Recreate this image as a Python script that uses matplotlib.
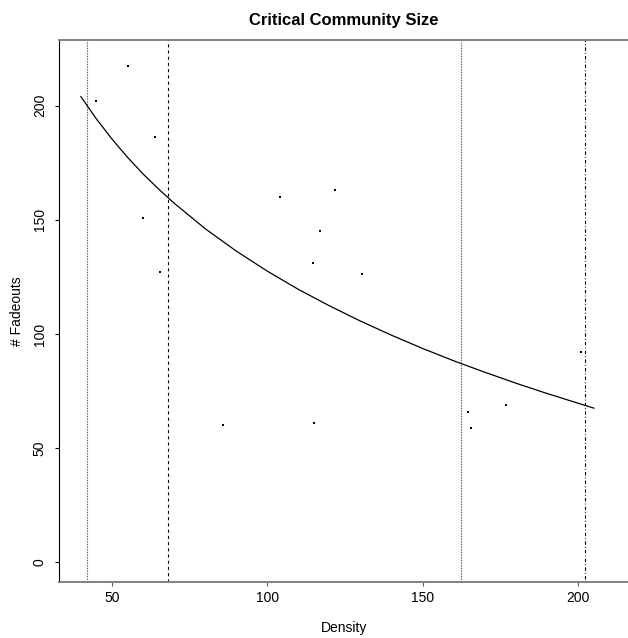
import matplotlib
matplotlib.use("Agg")
import matplotlib.pyplot as plt

plt.rcParams["font.family"] = ["Liberation Sans", "DejaVu Sans"]

# observed points (density, number of fadeouts)
density = [44.9, 55.2, 63.7, 60.1, 65.5, 104.1, 121.8, 117.0, 114.8, 130.4,
           85.7, 115.1, 200.9, 164.4, 165.6, 176.6]
fadeouts = [202.2, 217.3, 186.1, 151.0, 127.2, 160.1, 163.0, 145.0, 131.0, 126.1,
            60.0, 60.8, 92.0, 66.0, 59.0, 68.9]

# fitted curve
curve_x = [40, 45, 50, 55, 60, 65, 70, 80, 90, 100, 110, 120, 130, 140, 150,
           160, 170, 180, 190, 205]
curve_y = [204.0, 194.2, 185.4, 177.4, 170.1, 163.5, 157.3, 146.1, 136.3, 127.5,
           119.5, 112.3, 105.6, 99.4, 93.6, 88.2, 83.2, 78.4, 73.9, 67.5]

# vertical reference lines
vlines = [41.9, 68.0, 162.2, 202.2]
vline_styles = [(0, (1.3, 1.1)), (0, (2.8, 2.8)), (0, (1.3, 1.1)), (0, (0.8, 2.0, 3.0, 2.0))]
vline_colors = ["#606060", "black", "#606060", "black"]

x_ticks = [50, 100, 150, 200]
y_ticks = [0, 50, 100, 150, 200]

fig = plt.figure(figsize=(6.28, 6.38), dpi=100)
ax = fig.add_axes([0.0944, 0.0873, 0.9056, 0.8500])

for xv, ls, col in zip(vlines, vline_styles, vline_colors):
    ax.axvline(xv, color=col, linestyle=ls, linewidth=0.8)

ax.plot(curve_x, curve_y, color="black", linewidth=0.9)
ax.plot(density, fadeouts, linestyle="none", marker="s", markersize=1.9,
        color="black", markeredgewidth=0)

ax.set_xlim(33.05, 215.97)
ax.set_ylim(-8.8, 228.8)
ax.set_xticks(x_ticks)
ax.set_yticks(y_ticks)
ax.tick_params(axis="x", labelsize=10, length=3, width=0.8, color="#606060", pad=3.5)
ax.tick_params(axis="y", labelsize=10, length=3, width=0.8, color="black", pad=6.0)
for lab in ax.get_yticklabels():
    lab.set_rotation(90)
    lab.set_va("center")

ax.spines["right"].set_visible(False)
ax.spines["left"].set_color("black")
ax.spines["left"].set_linewidth(0.8)
for side in ["top", "bottom"]:
    ax.spines[side].set_color("#808080")
    ax.spines[side].set_linewidth(1.4)

ax.set_title("Critical Community Size", fontsize=12, fontweight="bold", pad=11)
ax.set_xlabel("Density", fontsize=10, labelpad=11)
ax.set_ylabel("# Fadeouts", fontsize=10, labelpad=6)

fig.savefig("out.png", dpi=100)
